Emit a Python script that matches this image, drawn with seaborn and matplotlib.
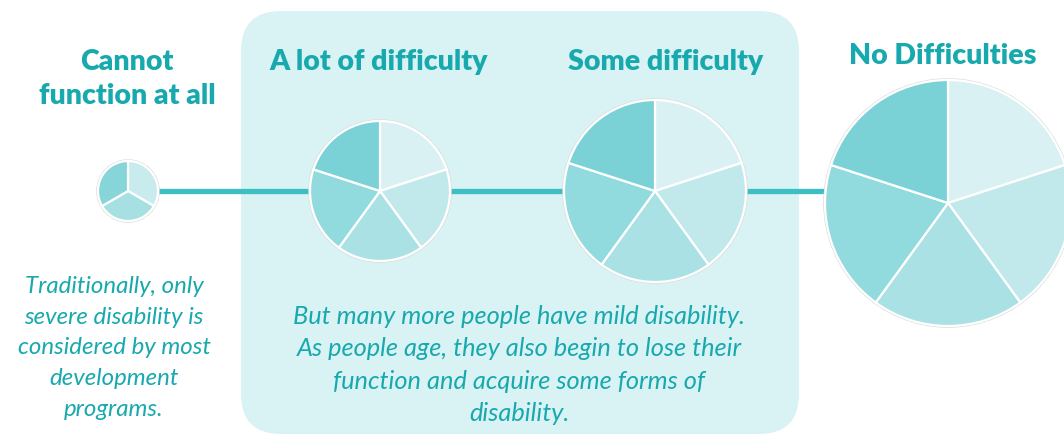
import numpy as np
import matplotlib
matplotlib.use("Agg")
import matplotlib.pyplot as plt
from matplotlib.patches import FancyBboxPatch, Circle
import seaborn as sns

# data
titles = ["Cannot\nfunction at all", "A lot of difficulty", "Some difficulty", "No Difficulties"]
shares = [[1, 1, 1], [1, 1, 1, 1, 1], [1, 1, 1, 1, 1], [1, 1, 1, 1, 1]]
left_note = "Traditionally, only\nsevere disability is\nconsidered by most\ndevelopment\nprograms."
mid_note = ("But many more people have mild disability.\n"
            "As people age, they also begin to lose their\n"
            "function and acquire some forms of\n"
            "disability.")

# layout (pixels, y from top)
W, H = 1064, 434
centers = [(128, 191), (380, 191), (655, 191), (948, 203)]
radii = [30, 70, 91, 123]
title_pos = [(127, 79), (379, 62), (666, 62), (943, 56)]

teal = "#17A9AE"
palette5 = sns.blend_palette(["#D9F1F2", "#7AD2D6"], 5)
palette3 = sns.blend_palette(["#C8ECEE", "#86D5D9"], 3)

sns.set_theme(style="white")

fig = plt.figure(figsize=(W / 100, H / 100), dpi=100)
ax = fig.add_axes([0, 0, 1, 1])

# background box for the middle group
box = FancyBboxPatch((241, 0), 558, H - 15 + 4,
                     boxstyle="round,pad=0,rounding_size=40",
                     facecolor="#D9F2F4", edgecolor="none", zorder=0)
ax.add_patch(box)

# connecting line
ax.plot([157, 830], [H - 191, H - 191], color="#3DBEC2", lw=3.8, zorder=1,
        solid_capstyle="butt")

for (cx, cy), r, vals in zip(centers, radii, shares):
    cols = palette3 if len(vals) == 3 else palette5
    ax.add_patch(Circle((cx, H - cy), r + 1.2, facecolor="none",
                        edgecolor="#DADADA", lw=0.8, zorder=1.5))
    wedges, _ = ax.pie(vals, colors=cols, center=(cx, H - cy), radius=r,
                       startangle=90, counterclock=False, frame=True,
                       wedgeprops=dict(edgecolor="white", linewidth=1.6))
    for w in wedges:
        w.set_zorder(2)

for (tx, ty), t in zip(title_pos, titles):
    ax.text(tx, H - ty, t, ha="center", va="center", fontsize=20.5,
            fontfamily="Lato", fontweight="heavy", color=teal,
            linespacing=1.38, zorder=3)

ax.text(114, H - 348, left_note, ha="center", va="center", fontsize=17.3,
        fontfamily="Lato", fontstyle="italic", color=teal,
        linespacing=1.58, zorder=3)
ax.text(519, H - 365, mid_note, ha="center", va="center", fontsize=18.3,
        fontfamily="Lato", fontstyle="italic", color=teal,
        linespacing=1.5, zorder=3)

ax.set_xlim(0, W)
ax.set_ylim(0, H)
ax.set_aspect("equal")
ax.axis("off")

fig.savefig("out.png", dpi=100, facecolor="white")
